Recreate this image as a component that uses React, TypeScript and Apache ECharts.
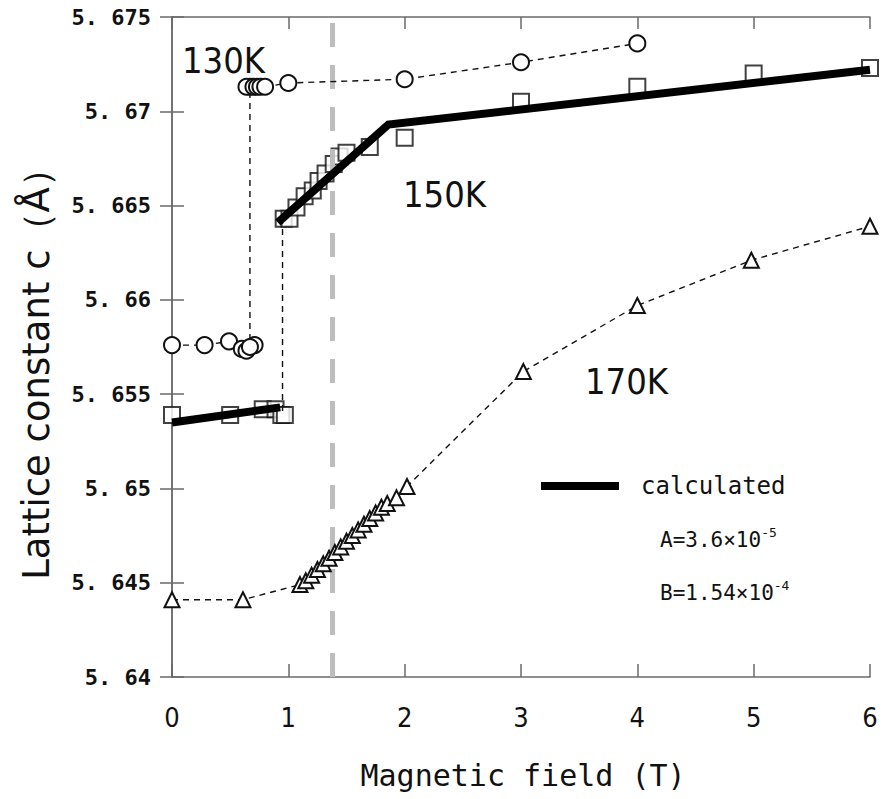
import React, { useEffect, useRef } from "react";
import * as echarts from "echarts";

// ---- data ----
const xTickLabels = ["0", "1", "2", "3", "4", "5", "6"];
const yTickLabels = ["5. 64", "5. 645", "5. 65", "5. 655", "5. 66", "5. 665", "5. 67", "5. 675"];

const k130Low: number[][] = [
  [0, 5.6576], [0.28, 5.6576], [0.49, 5.6578], [0.6, 5.6574], [0.64, 5.6573], [0.71, 5.6576], [0.67, 5.6575],
];
const k130High: number[][] = [
  [0.67, 5.6713], [0.64, 5.6713], [0.7, 5.6713], [0.73, 5.6713], [0.76, 5.6713], [0.8, 5.6713],
  [1, 5.6715], [2, 5.6717], [3, 5.6726], [4, 5.6736],
];
const k150: number[][] = [
  [0, 5.6539], [0.5, 5.6539], [0.78, 5.6542], [0.89, 5.6542], [0.94, 5.6539], [0.97, 5.6539],
  [0.96, 5.6643], [1.01, 5.6643], [1.07, 5.6649], [1.14, 5.6655], [1.21, 5.6658], [1.26, 5.6663],
  [1.32, 5.6667], [1.39, 5.6672], [1.44, 5.6676], [1.5, 5.6678], [1.7, 5.6681], [2, 5.6686],
  [3, 5.6705], [4, 5.6713], [5, 5.672], [6, 5.6723],
];
const k150Jump: number[][] = [[0.95, 5.6541], [0.95, 5.6643]];
const calcLow: number[][] = [[0, 5.6535], [0.93, 5.6543]];
const calcHigh: number[][] = [[0.91, 5.6641], [1.86, 5.6693], [6, 5.6722]];
const k170: number[][] = [
  [0, 5.6441], [0.61, 5.6441], [1.1, 5.6449], [1.15, 5.6451], [1.2, 5.6454], [1.25, 5.6457],
  [1.3, 5.646], [1.35, 5.6463], [1.4, 5.6466], [1.45, 5.6469], [1.5, 5.6472], [1.55, 5.6475],
  [1.6, 5.6478], [1.65, 5.6481], [1.7, 5.6484], [1.75, 5.6487], [1.8, 5.649], [1.85, 5.6492],
  [1.93, 5.6495], [2.02, 5.6501], [3.02, 5.6562], [4, 5.6597], [4.98, 5.6621], [6, 5.6639],
];
const markerField = 1.38;
const yMin = 5.64;
const yMax = 5.675;
const yStep = 0.005;

const MONO = "'DejaVu Sans Mono', monospace";
const NARROW = "'Liberation Sans Narrow', 'DejaVu Sans Condensed', 'Liberation Sans', sans-serif";

export default function App() {
  const ref = useRef<HTMLDivElement>(null);
  useEffect(() => {
    if (!ref.current) return;
    const chart = echarts.init(ref.current, undefined, { renderer: "svg" });
    const frame = { color: "#6a6a6a", width: 1.5 };
    const thinDash = { color: "#111", width: 1.4, type: [6, 5] as any };
    chart.setOption({
      animation: false,
      backgroundColor: "#fff",
      grid: { left: 172, right: 14, top: 17, bottom: 122 },
      xAxis: [
        {
          type: "value", min: 0, max: 6, interval: 1, position: "bottom",
          axisLine: { show: true, lineStyle: frame },
          axisTick: { show: true, inside: true, length: 13, lineStyle: frame },
          splitLine: { show: false },
          axisLabel: {
            margin: 27, fontFamily: NARROW, fontSize: 27, color: "#111",
            formatter: (v: number) => xTickLabels[Math.round(v)] ?? "",
          },
        },
        {
          type: "value", min: 0, max: 6, interval: 1, position: "top",
          axisLine: { show: true, lineStyle: frame },
          axisTick: { show: true, inside: true, length: 12, lineStyle: frame },
          splitLine: { show: false }, axisLabel: { show: false },
        },
      ],
      yAxis: [
        {
          type: "value", min: yMin, max: yMax, interval: yStep, position: "left",
          axisLine: { show: true, lineStyle: frame },
          axisTick: { show: true, inside: true, length: 12, lineStyle: frame },
          splitLine: { show: false },
          axisLabel: {
            margin: 21, fontFamily: MONO, fontWeight: "bold", fontSize: 22, color: "#111",
            formatter: (v: number) => yTickLabels[Math.round((v - yMin) / yStep)] ?? "",
          },
        },
        {
          type: "value", min: yMin, max: yMax, interval: yStep, position: "right",
          axisLine: { show: true, lineStyle: frame },
          axisTick: { show: true, inside: true, length: 12, lineStyle: frame },
          splitLine: { show: false }, axisLabel: { show: false },
        },
      ],
      series: [
        {
          name: "marker", type: "line", symbol: "none", silent: true,
          data: [[markerField, yMin], [markerField, yMax]],
          lineStyle: { color: "#bdbdbd", width: 5, type: [24, 18] },
        },
        {
          name: "170K", type: "line", data: k170, symbol: "emptyTriangle", symbolSize: 15,
          lineStyle: thinDash, itemStyle: { color: "#111", borderWidth: 1.4 },
        },
        {
          name: "130K", type: "line", data: [...k130Low, ...k130High], symbol: "emptyCircle", symbolSize: 16,
          lineStyle: thinDash, itemStyle: { color: "#111", borderWidth: 1.4 },
        },
        {
          name: "150K jump", type: "line", data: k150Jump, symbol: "none",
          lineStyle: thinDash,
        },
        {
          name: "150K", type: "scatter", data: k150, symbol: "emptyRect", symbolSize: 16,
          itemStyle: { color: "#111", borderWidth: 1.4 },
        },
        {
          name: "calculated", type: "line", data: calcLow, symbol: "none",
          lineStyle: { color: "#000", width: 8 },
        },
        {
          name: "calculated ", type: "line", data: calcHigh, symbol: "none",
          lineStyle: { color: "#000", width: 8, join: "miter" },
        },
      ],
      graphic: [
        {
          type: "text", x: 36, y: 365, rotation: Math.PI / 2,
          style: { text: "Lattice constant c（Å）", fontFamily: "'DejaVu Sans', sans-serif", fontSize: 37, fill: "#111", align: "center", verticalAlign: "middle" },
        },
        {
          type: "text", x: 523, y: 775,
          style: { text: "Magnetic field (T)", fontFamily: MONO, fontSize: 30, fill: "#111", align: "center", verticalAlign: "middle" },
        },
        { type: "text", x: 182, y: 60, style: { text: "130K", fontFamily: NARROW, fontSize: 36, fill: "#111", align: "left", verticalAlign: "middle" } },
        { type: "text", x: 403, y: 194, style: { text: "150K", fontFamily: NARROW, fontSize: 36, fill: "#111", align: "left", verticalAlign: "middle" } },
        { type: "text", x: 585, y: 381, style: { text: "170K", fontFamily: NARROW, fontSize: 36, fill: "#111", align: "left", verticalAlign: "middle" } },
        { type: "line", shape: { x1: 541, y1: 486, x2: 619, y2: 486 }, style: { stroke: "#000", lineWidth: 8 } },
        { type: "text", x: 641, y: 486, style: { text: "calculated", fontFamily: MONO, fontSize: 24, fill: "#111", align: "left", verticalAlign: "middle" } },
        {
          type: "text", x: 660, y: 540,
          style: {
            text: "{m|A=3.6×10}{s|-5}", align: "left", verticalAlign: "middle",
            rich: {
              m: { fontFamily: MONO, fontSize: 21, fill: "#111", lineHeight: 28 },
              s: { fontFamily: MONO, fontSize: 13, fill: "#111", verticalAlign: "top", lineHeight: 14 },
            },
          },
        },
        {
          type: "text", x: 660, y: 593,
          style: {
            text: "{m|B=1.54×10}{s|-4}", align: "left", verticalAlign: "middle",
            rich: {
              m: { fontFamily: MONO, fontSize: 21, fill: "#111", lineHeight: 28 },
              s: { fontFamily: MONO, fontSize: 13, fill: "#111", verticalAlign: "top", lineHeight: 14 },
            },
          },
        },
      ],
    });
    return () => chart.dispose();
  }, []);
  return <div ref={ref} style={{ position: "fixed", left: 0, top: 0, width: 884, height: 799 }} />;
}
